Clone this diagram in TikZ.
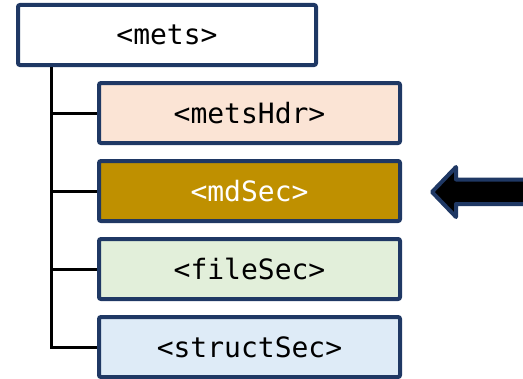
\documentclass[tikz,border=0pt]{standalone}
\usepackage{fontspec}
\setmonofont{DejaVu Sans Mono}
\usepackage{tikz}
\usetikzlibrary{positioning,calc}
\definecolor{navy}{RGB}{31,56,100}
\definecolor{peach}{RGB}{251,228,213}
\definecolor{gold}{RGB}{191,144,0}
\definecolor{mint}{RGB}{226,239,218}
\definecolor{sky}{RGB}{222,235,247}

\begin{document}
\begin{tikzpicture}[x=0.75pt,y=-0.75pt,
  tag/.style={draw=navy,line width=3pt,rounded corners=1.5pt,
    minimum width=225.75pt,minimum height=45pt,
    font=\fontsize{21}{25}\selectfont\ttfamily},
  tree/.style={line width=2.25pt,draw=black},
  pointer/.style={draw=navy,fill=black,line width=3pt,line join=round}
]
\useasboundingbox (0,0) rectangle (523,378);
\node[tag,minimum width=223.5pt,fill=white] (mets) at (167,35) {<mets>};
\node[tag,fill=peach] (hdr) at (249.5,113) {<metsHdr>};
\node[tag,fill=gold,text=white,below=10.5pt of hdr] (md) {<mdSec>};
\node[tag,fill=mint,below=10.5pt of md] (file) {<fileSec>};
\node[tag,fill=sky,below=10.5pt of file] (struct) {<structSec>};
\coordinate (trunk) at ([xshift=26.25pt]mets.south west);
\draw[tree] (trunk) |- (struct.west);
\foreach \n in {hdr,md,file}
  \draw[tree] (trunk |- \n.west) -- (\n.west);
% arrow pointing at mdSec
\draw[pointer] (432,192) -- (456,167) -- (456,179.5) -- (545,179.5)
  -- (545,204) -- (456,204) -- (456,217) -- cycle;
\end{tikzpicture}
\end{document}
